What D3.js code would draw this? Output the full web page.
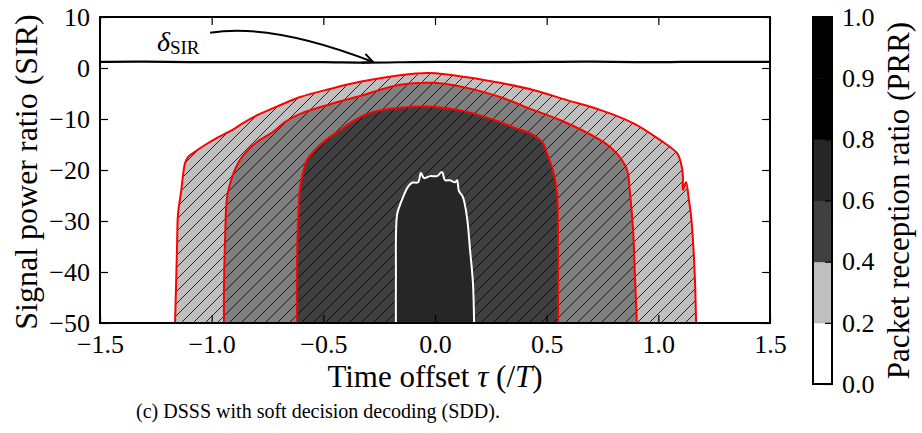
<!DOCTYPE html>
<html>
<head>
<meta charset="utf-8">
<script src="https://cdn.jsdelivr.net/npm/d3@7"></script>
<style>
  body { margin: 0; background: #fff; }
  svg text { font-family: "Liberation Serif", "DejaVu Serif", serif !important; fill: #000; }
</style>
</head>
<body>
<div id="chart"></div>
<script>
/* Axis ticks */
const xTicks = [-1.5, -1.0, -0.5, 0.0, 0.5, 1.0, 1.5];
const yTicks = [-50, -40, -30, -20, -10, 0, 10];

/* Colour bar: level boundaries (evenly spaced on the bar) and band colours */
const cbLevels = [0.0, 0.2, 0.4, 0.6, 0.8, 0.9, 1.0];
const cbColors = ["#ffffff", "#bfbfbf", "#404040", "#262626", "#000000", "#000000"];

/* PRR contour outlines, [tau, SIR] */
const contour20 = [
  [-1.164, -50], [-1.160, -43.5], [-1.155, -35.1], [-1.151, -28.8], [-1.137, -24.3],
  [-1.119, -18.6], [-1.106, -17.5], [-1.084, -16.7], [-1.030, -15.1], [-0.976, -13.7],
  [-0.909, -12.2], [-0.860, -10.8], [-0.784, -9.0], [-0.694, -7.3], [-0.604, -5.7],
  [-0.470, -4.1], [-0.336, -2.7], [-0.157, -1.4], [-0.022, -1.0], [0.143, -1.8],
  [0.291, -2.9], [0.439, -4.3], [0.591, -6.3], [0.739, -8.2], [0.887, -10.8],
  [1.007, -14.1], [1.084, -16.7], [1.101, -18.6], [1.110, -21.2], [1.110, -23.9],
  [1.124, -22.4], [1.137, -25.9], [1.146, -28.8], [1.155, -33.7], [1.164, -41.6],
  [1.169, -50]
];
const contour40 = [
  [-0.945, -50], [-0.945, -43.5], [-0.940, -33.7], [-0.931, -25.3], [-0.913, -22.0],
  [-0.896, -20.0], [-0.873, -18.0], [-0.837, -16.1], [-0.797, -14.5], [-0.725, -12.5],
  [-0.672, -10.6], [-0.604, -9.0], [-0.470, -7.1], [-0.336, -5.5], [-0.157, -3.3],
  [-0.009, -2.9], [0.143, -3.9], [0.291, -5.7], [0.439, -8.2], [0.560, -10.2],
  [0.739, -14.1], [0.784, -15.5], [0.828, -17.5], [0.860, -20.0], [0.873, -24.5],
  [0.887, -31.8], [0.896, -41.6], [0.904, -50]
];
const contour60 = [
  [-0.618, -50], [-0.618, -39.6], [-0.613, -29.8], [-0.604, -23.3], [-0.591, -20.6],
  [-0.573, -18.0], [-0.546, -16.5], [-0.515, -15.1], [-0.470, -13.5], [-0.425, -12.2],
  [-0.381, -10.8], [-0.291, -8.8], [-0.157, -7.8], [-0.009, -7.6], [0.143, -8.6],
  [0.291, -10.6], [0.349, -11.6], [0.439, -13.1], [0.484, -14.7], [0.501, -16.7],
  [0.528, -20.0], [0.546, -24.5], [0.551, -35.7], [0.551, -50]
];
const contour80 = [
  [-0.175, -50], [-0.175, -41.6], [-0.170, -28.8], [-0.157, -26.9], [-0.143, -25.3],
  [-0.121, -23.3], [-0.103, -22.5], [-0.076, -22.4], [-0.063, -20.6], [-0.049, -21.6],
  [-0.022, -21.2], [0.009, -21.2], [0.031, -20.4], [0.045, -22.0], [0.067, -22.0],
  [0.090, -22.4], [0.099, -22.0], [0.107, -24.1], [0.125, -25.3], [0.143, -29.2],
  [0.157, -35.7], [0.170, -42.2], [0.175, -50]
];

/* Threshold line delta_SIR */
const deltaTau = [-1.5, -1.3, -1.1, -0.9, -0.7, -0.5, -0.3, -0.1, 0.1, 0.3, 0.5, 0.7, 0.9, 1.1, 1.3, 1.5];
const deltaSir = [1.2, 1.3, 1.1, 1.2, 1.1, 1.2, 1.0, 1.2, 1.2, 1.1, 1.2, 1.3, 1.1, 1.2, 1.2, 1.2];

/* Annotation: label position and arrow start / end (tau, SIR) */
const annoText = [-1.245, 3.4];
const arrowFrom = [-1.007, 6.9];
const arrowTo = [-0.278, 1.2];

const width = 922, height = 433;
const plot = { left: 100, right: 770, top: 17, bottom: 323 };
const serif = "'Liberation Serif', 'DejaVu Serif', serif";

const svg = d3.select("#chart")
  .append("svg")
  .attr("width", width)
  .attr("height", height);

svg.append("rect").attr("width", width).attr("height", height).attr("fill", "#fff");

const x = d3.scaleLinear().domain([-1.5, 1.5]).range([plot.left, plot.right]);
const y = d3.scaleLinear().domain([-50, 10]).range([plot.bottom, plot.top]);

/* Hatch pattern */
const defs = svg.append("defs");
const hatch = defs.append("pattern")
  .attr("id", "hatch")
  .attr("patternUnits", "userSpaceOnUse")
  .attr("width", 12)
  .attr("height", 12);
hatch.append("path")
  .attr("d", "M0,12 L12,0 M-1,1 L1,-1 M11,13 L13,11")
  .attr("stroke", "#000")
  .attr("stroke-width", 0.8);

defs.append("clipPath").attr("id", "plotClip")
  .append("rect")
  .attr("x", plot.left).attr("y", plot.top)
  .attr("width", plot.right - plot.left).attr("height", plot.bottom - plot.top);

const line = d3.line().x(d => x(d[0])).y(d => y(d[1])).curve(d3.curveCatmullRom.alpha(0.5));

const levels = [
  { data: contour20, fill: "#bfbfbf", hatch: true, edge: "#ff0000" },
  { data: contour40, fill: "#7f7f7f", hatch: true, edge: "#ff0000" },
  { data: contour60, fill: "#3f3f3f", hatch: true, edge: "#ff0000" },
  { data: contour80, fill: "#262626", hatch: false, edge: "#ffffff" }
];

const g = svg.append("g").attr("clip-path", "url(#plotClip)");

/* Filled regions */
levels.forEach(lv => {
  g.append("path").attr("d", line(lv.data) + "Z").attr("fill", lv.fill);
  if (lv.hatch) g.append("path").attr("d", line(lv.data) + "Z").attr("fill", "url(#hatch)");
});

/* Contour lines */
levels.forEach(lv => {
  g.append("path")
    .attr("d", line(lv.data))
    .attr("fill", "none")
    .attr("stroke", lv.edge)
    .attr("stroke-width", 2)
    .attr("stroke-linejoin", "round");
});

/* delta_SIR line */
g.append("path")
  .datum(deltaTau.map((t, i) => [t, deltaSir[i]]))
  .attr("d", d3.line().x(d => x(d[0])).y(d => y(d[1])).curve(d3.curveBasis))
  .attr("fill", "none")
  .attr("stroke", "#000")
  .attr("stroke-width", 2.2);

/* Axes with inward ticks */
const tickLen = 8;
svg.append("g")
  .attr("transform", `translate(0,${plot.bottom})`)
  .call(d3.axisBottom(x).tickValues(xTicks).tickFormat(d3.format(".1f"))
    .tickSizeInner(-tickLen).tickSizeOuter(0).tickPadding(12));
svg.append("g")
  .attr("transform", `translate(${plot.left},0)`)
  .call(d3.axisLeft(y).tickValues(yTicks).tickFormat(d3.format("d"))
    .tickSizeInner(-tickLen).tickSizeOuter(0).tickPadding(10));
svg.append("g")
  .attr("transform", `translate(0,${plot.top})`)
  .call(d3.axisTop(x).tickValues(xTicks).tickFormat("")
    .tickSizeInner(-tickLen).tickSizeOuter(0));
svg.append("g")
  .attr("transform", `translate(${plot.right},0)`)
  .call(d3.axisRight(y).tickValues(yTicks).tickFormat("")
    .tickSizeInner(-tickLen).tickSizeOuter(0));

/* Plot frame */
svg.append("rect")
  .attr("x", plot.left).attr("y", plot.top)
  .attr("width", plot.right - plot.left).attr("height", plot.bottom - plot.top)
  .attr("fill", "none")
  .attr("stroke", "#000")
  .attr("stroke-width", 2);

/* Annotation */
const lab = svg.append("text")
  .attr("x", x(annoText[0]))
  .attr("y", y(annoText[1]))
  .attr("font-size", 28);
lab.append("tspan").attr("font-style", "italic").text("δ");
lab.append("tspan").attr("font-size", 19).attr("dy", 3).text("SIR");

const p0 = [x(arrowFrom[0]), y(arrowFrom[1])];
const p1 = [x(arrowTo[0]), y(arrowTo[1])];
const ctrl = [p0[0] + 0.38 * (p1[0] - p0[0]), p0[1] - 10];
svg.append("path")
  .attr("d", `M${p0[0]},${p0[1]} Q${ctrl[0]},${ctrl[1]} ${p1[0]},${p1[1]}`)
  .attr("fill", "none")
  .attr("stroke", "#000")
  .attr("stroke-width", 2);
const ang = Math.atan2(p1[1] - ctrl[1], p1[0] - ctrl[0]);
const head = 11, spread = 0.45;
svg.append("path")
  .attr("d", `M${p1[0] - head * Math.cos(ang - spread)},${p1[1] - head * Math.sin(ang - spread)}
    L${p1[0]},${p1[1]}
    L${p1[0] - head * Math.cos(ang + spread)},${p1[1] - head * Math.sin(ang + spread)}`)
  .attr("fill", "none")
  .attr("stroke", "#000")
  .attr("stroke-width", 2);

/* Axis labels */
const xl = svg.append("text")
  .attr("x", (plot.left + plot.right) / 2)
  .attr("y", 387)
  .attr("text-anchor", "middle")
  .attr("font-size", 31);
xl.append("tspan").text("Time offset ");
xl.append("tspan").attr("font-style", "italic").text("τ");
xl.append("tspan").text(" (/");
xl.append("tspan").attr("font-style", "italic").text("T");
xl.append("tspan").text(")");

svg.append("text")
  .attr("transform", `translate(37,${(plot.top + plot.bottom) / 2 + 2}) rotate(-90)`)
  .attr("text-anchor", "middle")
  .attr("font-size", 32)
  .text("Signal power ratio (SIR)");

/* Colour bar: equal-height cells for each level interval */
const cb = { x: 813, w: 19 };
const cy = d3.scaleLinear()
  .domain(cbLevels)
  .range(cbLevels.map((d, i) => 384 - i * (384 - 17) / (cbLevels.length - 1)));

svg.append("g")
  .selectAll("rect")
  .data(cbColors)
  .join("rect")
    .attr("x", cb.x)
    .attr("y", (d, i) => cy(cbLevels[i + 1]))
    .attr("width", cb.w)
    .attr("height", (d, i) => cy(cbLevels[i]) - cy(cbLevels[i + 1]) + 0.5)
    .attr("fill", d => d);

const cbAxis = svg.append("g")
  .attr("transform", `translate(${cb.x + cb.w},0)`)
  .call(d3.axisRight(cy).tickValues(cbLevels).tickFormat(d3.format(".1f"))
    .tickSizeInner(-7).tickSizeOuter(0).tickPadding(10));

svg.selectAll(".domain").remove();
svg.selectAll(".tick line").attr("stroke", "#000").attr("stroke-width", 1.2);
svg.selectAll(".tick text")
  .style("font-family", serif)
  .attr("font-size", 26)
  .attr("fill", "#000");

svg.append("rect")
  .attr("x", cb.x).attr("y", cy(1))
  .attr("width", cb.w).attr("height", cy(0) - cy(1))
  .attr("fill", "none")
  .attr("stroke", "#000")
  .attr("stroke-width", 2);

svg.append("text")
  .attr("transform", `translate(909,${(cy(0) + cy(1)) / 2}) rotate(-90)`)
  .attr("text-anchor", "middle")
  .attr("font-size", 31)
  .text("Packet reception ratio (PRR)");

/* Caption */
svg.append("text")
  .attr("x", 318)
  .attr("y", 418)
  .attr("text-anchor", "middle")
  .attr("font-size", 20)
  .text("(c) DSSS with soft decision decoding (SDD).");

svg.selectAll("text").style("font-family", serif);
</script>
</body>
</html>
